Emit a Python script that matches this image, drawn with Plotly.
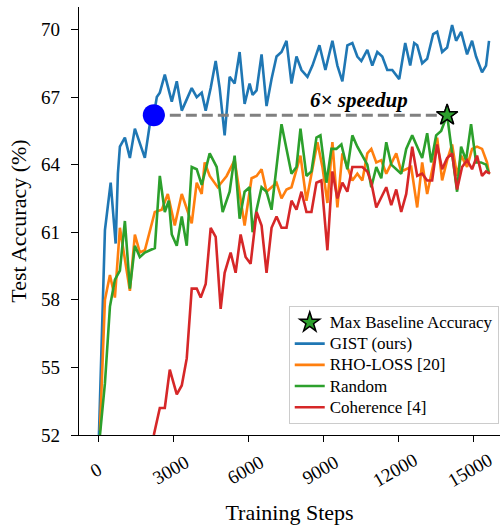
import plotly.graph_objects as go

# ---------------- data ----------------
gist_steps = [0, 240, 470, 670, 760, 840, 1040, 1240, 1440, 1640, 1840, 2040, 2200, 2320, 2440, 2640,
              2920, 3120, 3320, 3520, 3720, 3920, 4120, 4280, 4480, 4680, 4840, 5040, 5240, 5440, 5640,
              5840, 6040, 6160, 6320, 6520, 6720, 6920, 7120, 7320, 7520, 7720, 7920, 8120, 8360, 8560,
              8840, 9080, 9360, 9560, 9760, 9960, 10160, 10360, 10520, 10760, 10960, 11160, 11360, 11560,
              11760, 12040, 12280, 12480, 12640, 12760, 12960, 13160, 13400, 13560, 13760, 13960, 14160,
              14320, 14520, 14760, 14960, 15120, 15360, 15520, 15640]
gist_acc = [52.0, 61.1, 63.2, 60.5, 63.6, 64.8, 65.2, 64.3, 65.6, 64.9, 64.3, 65.8, 66.2, 67.0, 67.2, 68.0,
            66.8, 67.7, 66.4, 66.9, 67.4, 67.0, 67.2, 66.4, 67.4, 68.6, 67.4, 65.3, 67.9, 67.6, 69.0,
            66.7, 67.6, 67.1, 67.3, 68.9, 66.6, 67.8, 68.8, 69.0, 69.5, 67.6, 68.8, 68.2, 67.9, 68.4,
            69.3, 68.2, 69.5, 68.4, 67.7, 69.3, 69.4, 68.8, 68.6, 69.1, 68.4, 69.0, 68.8, 68.2,
            68.2, 67.8, 69.4, 68.4, 69.4, 69.3, 68.5, 68.7, 69.8, 69.9, 69.0, 69.2, 70.2,
            69.5, 69.9, 68.9, 69.5, 68.8, 68.1, 68.4, 69.5]

rho_steps = [40, 240, 440, 640, 840, 1240, 1440, 1640, 1840, 2040, 2240, 2520, 2760, 3040, 3320, 3720,
             3920, 4120, 4240, 4440, 4760, 5120, 5440, 5840, 6120, 6320, 6520, 6720, 6920, 7120, 7320,
             7520, 7720, 8080, 8320, 8560, 8760, 8960, 9160, 9360, 9560, 9760, 9960, 10160, 10360, 10560,
             10760, 10920, 11120, 11320, 11520, 11920, 12120, 12520, 12760, 12960, 13160, 13440, 13560,
             13760, 13960, 14160, 14360, 14520, 14760, 14960, 15160, 15360, 15560, 15640]
rho_acc = [52.2, 58.0, 59.1, 58.1, 61.2, 58.4, 60.9, 60.1, 60.2, 61.1, 61.9, 62.0, 62.7, 61.3, 62.7, 61.4,
           63.2, 62.7, 64.1, 63.5, 63.0, 63.5, 64.2, 61.3, 63.4, 63.5, 63.8, 62.8, 63.0, 63.2, 62.5,
           62.9, 63.0, 64.4, 62.4, 63.9, 65.0, 63.9, 62.3, 65.0, 62.1, 64.5, 63.9, 63.3, 63.6, 63.3,
           64.5, 64.7, 64.1, 64.2, 63.6, 64.5, 63.7, 63.9, 62.1, 64.1, 62.7, 64.2, 65.2,
           63.3, 64.2, 64.9, 63.5, 64.4, 63.9, 64.7, 64.8, 64.7, 64.1, 63.6]

random_steps = [40, 240, 440, 640, 840, 1040, 1240, 1440, 1640, 1840, 2040, 2240, 2440, 2640, 2800, 2920,
                3120, 3320, 3520, 3720, 3920, 4120, 4440, 4720, 4960, 5240, 5440, 5640, 5840, 6040, 6160,
                6320, 6520, 6720, 6920, 7320, 7520, 7720, 7920, 8080, 8320, 8520, 8720, 8880, 9120, 9320,
                9520, 9720, 9960, 10160, 10360, 10560, 10760, 10920, 11120, 11320, 11520, 11720, 11920,
                12120, 12320, 12560, 12760, 12960, 13160, 13320, 13520, 13720, 13960, 14120, 14360, 14520,
                14720, 14920, 15120, 15320, 15520, 15640]
random_acc = [52.0, 54.3, 57.7, 58.9, 59.3, 61.5, 58.5, 60.4, 59.9, 60.1, 60.2, 60.3, 63.5, 61.9, 62.4, 60.9,
              60.4, 61.7, 60.4, 63.9, 63.8, 63.1, 64.5, 63.9, 61.9, 62.8, 64.4, 61.6, 62.8, 63.0, 61.0,
              62.0, 63.0, 62.8, 62.0, 65.8, 64.7, 63.6, 63.9, 65.6, 63.5, 63.7, 65.2, 65.3, 63.2, 64.7,
              64.7, 64.9, 63.8, 65.3, 64.8, 64.4, 64.0, 63.0, 63.9, 63.4, 65.0, 64.0, 63.8,
              63.6, 64.7, 65.3, 64.8, 64.3, 65.4, 64.1, 65.3, 65.5, 66.2, 64.8, 62.8, 64.8,
              64.2, 65.8, 64.1, 64.1, 64.0, 63.6]

coh_steps = [2200, 2440, 2640, 2840, 3120, 3320, 3520, 3720, 3920, 4080, 4280, 4480, 4680, 4880, 5040,
             5280, 5480, 5680, 5880, 6080, 6320, 6520, 6720, 6920, 7120, 7320, 7520, 7720, 7920, 8120,
             8320, 8520, 8720, 8920, 9160, 9360, 9560, 9760, 9960, 10160, 10360, 10560, 10760, 10920,
             11120, 11520, 11720, 11920, 12120, 12320, 12560, 12760, 12960, 13160, 13360, 13560, 13760,
             13960, 14160, 14360, 14560, 14760, 14960, 15160, 15360, 15520, 15680]
coh_acc = [52.0, 53.2, 53.2, 54.9, 53.8, 54.2, 55.4, 58.5, 58.5, 58.1, 58.7, 61.2, 60.8, 57.6, 59.2,
           60.1, 59.2, 60.9, 59.9, 59.6, 61.9, 61.3, 59.2, 61.2, 61.7, 61.2, 61.2, 62.4, 62.0, 62.8,
           61.9, 61.9, 63.2, 63.3, 60.2, 63.7, 62.5, 63.2, 62.8, 63.9, 63.9, 63.9, 63.7, 63.2,
           62.1, 63.0, 62.2, 62.9, 61.9, 62.7, 64.8, 63.5, 63.6, 63.3, 63.3, 64.9, 63.8,
           64.3, 64.5, 62.9, 63.9, 64.2, 63.8, 64.4, 63.5, 63.7, 63.6]

x_ticks = [0, 3000, 6000, 9000, 12000, 15000]
y_ticks = [52, 55, 58, 61, 64, 67, 70]

series_names = ["GIST (ours)", "RHO-LOSS [20]", "Random", "Coherence [4]"]
series_colors = ["#1f77b4", "#ff7f0e", "#2ca02c", "#d62728"]

# ---------------- derived markers ----------------
baselines = [random_acc, rho_acc, coh_acc]
baseline_steps = [random_steps, rho_steps, coh_steps]
best_val, best_step = -1, None
for accs, stps in zip(baselines, baseline_steps):
    for s, a in zip(stps, accs):
        if a > best_val:
            best_val, best_step = a, s
gist_hit_step = next(s for s, a in zip(gist_steps, gist_acc) if a >= best_val)

FONT = "Liberation Serif"
NB = "\u00a0"


def centered_label(v, width=5):
    s = str(v)
    pad = width - len(s)  # each digit = two spaces wide in this font
    return NB * pad + s + NB * pad


def leg(name):
    # larger glyphs with the tighter row spacing of a smaller legend font
    return f"<span style='font-size:17px'>{name}</span>"


fig = go.Figure()

fig.add_trace(go.Scatter(
    x=[best_step], y=[best_val], mode="markers", name=leg("Max Baseline Accuracy"),
    marker=dict(symbol="star", size=15, color="#2ca02c", line=dict(color="black", width=1.5)),
    legendrank=1, showlegend=True,
))

all_series = [(gist_steps, gist_acc), (rho_steps, rho_acc), (random_steps, random_acc), (coh_steps, coh_acc)]
for i, ((sx, sy), nm, col) in enumerate(zip(all_series, series_names, series_colors)):
    fig.add_trace(go.Scatter(x=sx, y=sy, mode="lines", name=leg(nm),
                             line=dict(color=col, width=2.6), legendrank=2 + i))

fig.add_trace(go.Scatter(x=[gist_hit_step, best_step], y=[best_val, best_val], mode="lines",
                         line=dict(color="#808080", width=3, dash="11px,5px"), showlegend=False,
                         hoverinfo="skip"))
fig.add_trace(go.Scatter(x=[gist_hit_step], y=[best_val], mode="markers",
                         marker=dict(symbol="circle", size=22, color="#0000ff"), showlegend=False))
fig.add_trace(go.Scatter(x=[best_step], y=[best_val], mode="markers", showlegend=False,
                         marker=dict(symbol="star", size=16, color="#2ca02c", line=dict(color="black", width=1.5))))

fig.add_annotation(x=10440, y=best_val, text="<b><i>6× speedup</i></b>", showarrow=False,
                   yanchor="bottom", yshift=1, font=dict(family=FONT, size=21, color="black"))

fig.update_layout(
    width=501, height=525,
    margin=dict(l=79, r=1, t=7, b=90, autoexpand=False),
    paper_bgcolor="white", plot_bgcolor="white",
    font=dict(family=FONT, color="black"),
    showlegend=True,
    legend=dict(x=0.997, y=0.026, xanchor="right", yanchor="bottom",
                bgcolor="rgba(255,255,255,0.85)", bordercolor="#cccccc", borderwidth=1,
                font=dict(family=FONT, size=14), tracegroupgap=0, itemwidth=30),
)
fig.update_xaxes(range=[-800, 16080], tickvals=x_ticks, ticktext=[centered_label(v) for v in x_ticks],
                 tickangle=-30, ticks="outside", ticklen=6, tickwidth=1.3, tickcolor="black",
                 showline=True, linecolor="black", linewidth=1.3, showgrid=False, zeroline=False,
                 automargin=False,
                 tickfont=dict(family=FONT, size=19), ticklabelshift=16, ticklabelstandoff=0,
                 title=dict(text="Training Steps", font=dict(family=FONT, size=22), standoff=14))
fig.update_yaxes(range=[52, 71.0], tickvals=y_ticks, ticks="outside", ticklen=7, tickwidth=1.3,
                 tickcolor="black", showline=True, linecolor="black", linewidth=1.3, showgrid=False,
                 zeroline=False, automargin=False, tickfont=dict(family=FONT, size=19),
                 ticklabelstandoff=7,
                 title=dict(text="Test Accuracy (%)", font=dict(family=FONT, size=22), standoff=8))

fig.write_html("out.html", config={"displayModeBar": False},
               post_script="document.body.style.margin='0px';"
               "document.body.style.overflow='hidden';")
